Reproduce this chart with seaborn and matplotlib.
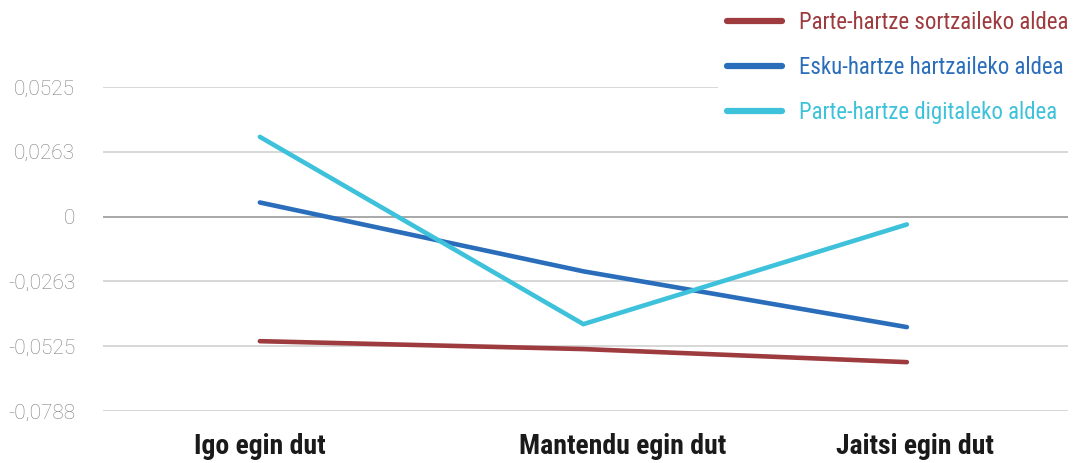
import numpy as np
import pandas as pd
import seaborn as sns
import matplotlib
matplotlib.use("Agg")
from matplotlib import pyplot as plt
from matplotlib.transforms import ScaledTranslation

categories = ["Igo egin dut", "Mantendu egin dut", "Jaitsi egin dut"]
series_names = ["Parte-hartze sortzaileko aldea",
                "Esku-hartze hartzaileko aldea",
                "Parte-hartze digitaleko aldea"]
sortzaile = [-0.0505, -0.0537, -0.0590]
hartzaile = [0.0057, -0.0222, -0.0448]
digital = [0.0323, -0.0436, -0.0032]
colors = ["#9E3B3E", "#2A6EBB", "#3EC1DA"]

ytick_values = [0.0525, 0.02625, 0, -0.02625, -0.0525, -0.0788]
ytick_labels = ["0,0525", "0,0263", "0", "-0,0263", "-0,0525", "-0,0788"]

df = pd.DataFrame({
    "kategoria": categories * 3,
    "balioa": sortzaile + hartzaile + digital,
    "taldea": [series_names[0]] * 3 + [series_names[1]] * 3 + [series_names[2]] * 3,
})

sns.set_theme(style="white")
plt.rcParams['font.family'] = ['Roboto Condensed', 'DejaVu Sans']

fig = plt.figure(figsize=(10.78, 4.63), dpi=100)
ax = fig.add_axes([0.0955, 0.1123, 0.8952, 0.6998])

sns.lineplot(data=df, x="kategoria", y="balioa", hue="taldea",
             palette=colors, sort=False, linewidth=3.3, ax=ax, zorder=3)
for line in ax.get_lines():
    line.set_solid_capstyle("round")
    line.set_solid_joinstyle("miter")

for v in ytick_values:
    if v == 0:
        ax.axhline(v, color="#9a9a9a", linewidth=1.2, zorder=1)
    else:
        ax.axhline(v, color="#d4d4d4", linewidth=1.3, zorder=1)

ax.set_xlim(-0.485, 2.498)
ax.set_ylim(-0.0788, 0.0525)
ax.set_yticks(ytick_values)
ax.set_yticklabels(ytick_labels, family=['Roboto', 'DejaVu Sans'],
                   fontweight='light', fontsize=15, color="#7f7f7f")
ax.set_xticks(range(len(categories)))
ax.set_xticklabels(categories, fontsize=20, fontweight='bold', color="#1a1a1a")
ax.tick_params(axis='y', length=0, pad=20)
ax.tick_params(axis='x', length=0, pad=16)

# the labels in the original sit a little right of their points
label_shift = [0, 39, 8]
for lab, dx in zip(ax.get_xticklabels(), label_shift):
    lab.set_transform(lab.get_transform() + ScaledTranslation(dx / 100, 0, fig.dpi_scale_trans))

ax.set_xlabel("")
ax.set_ylabel("")
for s in ax.spines.values():
    s.set_visible(False)

leg = ax.legend(loc="upper left", bbox_to_anchor=(0.655, 1.02),
                bbox_transform=fig.transFigure, frameon=True,
                facecolor="white", edgecolor="none", framealpha=1,
                fontsize=16.5, handlelength=2.4, handletextpad=0.75,
                labelspacing=0.95, borderpad=0.4)
for line in leg.get_lines():
    line.set_linewidth(4.5)
    line.set_solid_capstyle("round")
for text, c in zip(leg.get_texts(), colors):
    text.set_color(c)
leg.set_zorder(5)

fig.savefig("out.png", dpi=100)
